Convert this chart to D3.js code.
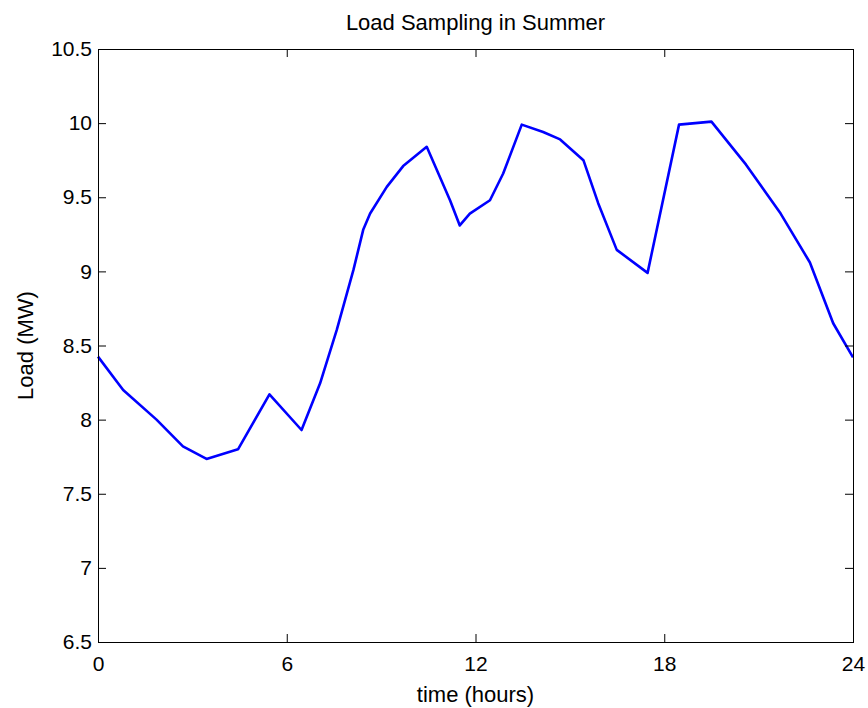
<!DOCTYPE html>
<html>
<head>
<meta charset="utf-8">
<script src="https://cdn.jsdelivr.net/npm/d3@7"></script>
<style>
  body { margin: 0; background: #fff; }
  text { font-family: "Liberation Sans", Arial, Helvetica, sans-serif; fill: #000; }
</style>
</head>
<body>
<div id="chart"></div>
<script>
// data
var hours = [0, 0.8, 1.86, 2.7, 3.45, 4.45, 5.45, 6.47, 7.06, 7.59, 8.12, 8.43, 8.65, 9.18, 9.7, 10.45,
             11.19, 11.5, 11.82, 12.46, 12.88, 13.47, 14.15, 14.69, 15.43, 15.9, 16.49, 17.47, 18.47,
             19.5, 20.6, 21.7, 22.63, 23.37, 24];
var loadMW = [8.425, 8.2, 8.0, 7.82, 7.735, 7.80, 8.17, 7.93, 8.245, 8.605, 9.01, 9.28, 9.39, 9.57, 9.71, 9.84,
              9.48, 9.31, 9.39, 9.48, 9.66, 9.99, 9.94, 9.89, 9.75, 9.46, 9.145, 8.99, 9.99,
              10.01, 9.72, 9.39, 9.06, 8.65, 8.42];
var xTicks = [0, 6, 12, 18, 24];
var yTicks = [6.5, 7, 7.5, 8, 8.5, 9, 9.5, 10, 10.5];

var width = 868,
    height = 708;

var margin = { top: 49, right: 15, bottom: 66, left: 98 };
var w = width - margin.left - margin.right,
    h = height - margin.top - margin.bottom;

var svg = d3.select('#chart')
  .append('svg')
  .attr('width', width)
  .attr('height', height);

var g = svg.append('g')
  .attr('transform', 'translate(' + margin.left + ',' + margin.top + ')');

var x = d3.scaleLinear().domain([0, 24]).range([0, w]);
var y = d3.scaleLinear().domain([6.5, 10.5]).range([h, 0]);

var tickLen = 8;

// the line
var data = hours.map(function(t, i) { return { t: t, v: loadMW[i] } });
var line = d3.line()
  .x(function(d) { return x(d.t) })
  .y(function(d) { return y(d.v) });

g.append('path')
  .datum(data)
  .attr('fill', 'none')
  .attr('stroke', '#0000ff')
  .attr('stroke-width', 2.6)
  .attr('stroke-linejoin', 'round')
  .attr('d', line);

// axes, ticks inside, on all four sides (matlab box)
var axStyle = function(sel) {
  sel.select('.domain').remove();
  sel.selectAll('.tick line').attr('stroke', '#000');
  sel.selectAll('text').style('font-size', '21px');
};

g.append('g')
  .attr('transform', 'translate(0,' + h + ')')
  .call(d3.axisBottom(x).tickValues(xTicks).tickSize(-tickLen).tickPadding(14).tickFormat(d3.format('d')))
  .call(axStyle);

g.append('g')
  .call(d3.axisTop(x).tickValues(xTicks).tickSize(-tickLen).tickFormat(''))
  .call(axStyle);

g.append('g')
  .call(d3.axisLeft(y).tickValues(yTicks).tickSize(-tickLen).tickPadding(6).tickFormat(function(d) { return d3.format('')(d) }))
  .call(axStyle);

g.append('g')
  .attr('transform', 'translate(' + w + ',0)')
  .call(d3.axisRight(y).tickValues(yTicks).tickSize(-tickLen).tickFormat(''))
  .call(axStyle);

g.append('rect')
  .attr('width', w)
  .attr('height', h)
  .attr('fill', 'none')
  .attr('stroke', '#000')
  .attr('stroke-width', 1)
  .attr('shape-rendering', 'crispEdges');

// labels
g.append('text')
  .attr('x', w / 2)
  .attr('y', -19)
  .attr('text-anchor', 'middle')
  .style('font-size', '22px')
  .text('Load Sampling in Summer');

g.append('text')
  .attr('x', w / 2)
  .attr('y', h + 60)
  .attr('text-anchor', 'middle')
  .style('font-size', '22px')
  .text('time (hours)');

g.append('text')
  .attr('transform', 'translate(' + (-margin.left + 33) + ',' + (h / 2) + ') rotate(-90)')
  .attr('text-anchor', 'middle')
  .style('font-size', '22px')
  .text('Load (MW)');
</script>
</body>
</html>
